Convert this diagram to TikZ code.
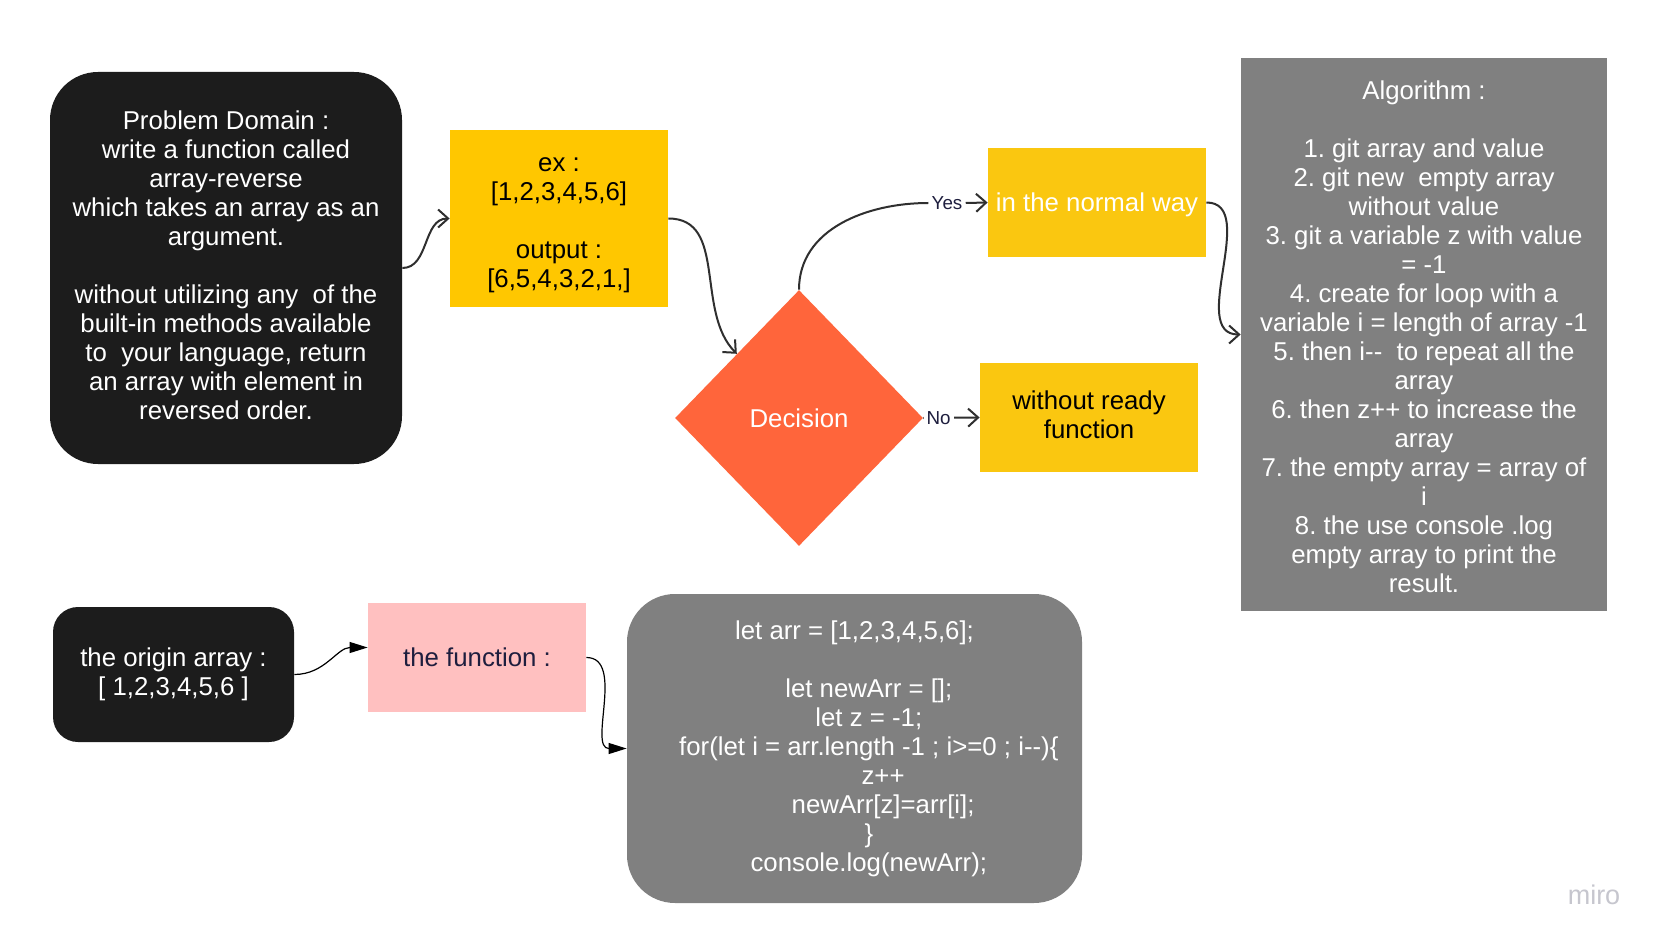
\documentclass[tikz,border=0pt]{standalone}
\usepackage{fontspec}
\setmainfont{Liberation Sans}
\usepackage{tikz}
\definecolor{mblack}{HTML}{1C1C1C}
\definecolor{myellow}{HTML}{FFC700}
\definecolor{mlemon}{HTML}{FAC710}
\definecolor{morange}{HTML}{FF653B}
\definecolor{mgray}{HTML}{808080}
\definecolor{mpink}{HTML}{FFC0C0}
\definecolor{mnavy}{HTML}{1E1E3E}
\definecolor{mline}{HTML}{2F2F2F}
\definecolor{mlogo}{HTML}{C6C6CE}
\usetikzlibrary{shapes.geometric}
\usetikzlibrary{arrows.meta}
\newcommand{\boxstrut}{\rule[-2.75pt]{0pt}{14.5pt}}
\newcommand{\codeindent}{\hspace*{14.3pt}}
\frenchspacing

\begin{document}
\begin{tikzpicture}[x=0.5pt, y=-0.5pt]
    \tikzset{
      box/.style={
        rectangle,
        inner sep=2pt,
        align=center,
        execute at begin node=\boxstrut,
        execute at end node=\boxstrut,
        font={\fontsize{12.9}{14.5}\selectfont}},
      lbl/.style={
        inner sep=1.5pt,
        text=mnavy,
        font={\fontsize{9.4}{11}\selectfont}},
      plain/.style={draw=mline, line width=1pt},
      link/.style={plain, -{Straight Barb[length=5pt, width=9pt]}},
      flink/.style={draw=black, line width=0.6pt, -{Triangle[length=9pt, width=5.5pt]}}}
    \path[fill=white] (0, 0) rectangle (1660, 941);
    % top row
    \node[box, fill=mblack, text=white, rounded corners=24pt,
      minimum width=176pt, minimum height=196pt] at (226, 268) (prob)
      {Problem Domain :\\ write a function called\\ array-reverse\\
       which takes an array as an\\ argument.\\[14.5pt]
       without utilizing any\ \ of the\\ built-in methods available\\
       to\ \ your language, return\\ an array with element in\\ reversed order.};
    \node[box, fill=myellow, text=black, minimum width=109pt, minimum height=88.5pt]
      at (559, 218.5) (ex)
      {\rule{0pt}{13.3pt}ex :\\ {[}1,2,3,4,5,6]\\[14.5pt] output :\\ {[}6,5,4,3,2,1,]};
    \node[diamond, fill=morange, text=white, inner sep=0pt, minimum width=124pt,
      minimum height=128pt, font={\fontsize{12.9}{14.5}\selectfont}]
      at (799, 418) (dec) {Decision};
    \node[lbl] at (947, 203) (yes) {Yes};
    \node[box, fill=mlemon, text=white, minimum width=109pt, minimum height=54.5pt]
      at (1097, 202.5) (norm) {in the normal way};
    \node[box, fill=mlemon, text=black, minimum width=109pt, minimum height=54.5pt]
      at (1089, 417.5) (wo) {without ready\\ function};
    \node[box, fill=mgray, text=white, minimum width=183pt, minimum height=276.5pt]
      at (1424, 334.5) (algo)
      {\rule{0pt}{14pt}Algorithm :\\[14.5pt] 1. git array and value\\
       2. git new\ \ empty array\\ without value\\ 3. git a variable z with value\\
       = -1\\ 4. create for loop with a\\ variable i = length of array -1\\
       5. then i-{}-\ \ to repeat all the\\ array\\ 6. then z++ to increase the\\
       array\\ 7. the empty array = array of\\ i\\ 8. the use console .log\\
       empty array to print the\\ result.};
    % bottom row
    \node[box, fill=mblack, text=white, rounded corners=12.5pt,
      minimum width=120.5pt, minimum height=67.5pt] at (173.5, 674.5) (orig)
      {the origin array :\\ {[} 1,2,3,4,5,6 ]};
    \node[box, fill=mpink, text=mnavy, minimum width=109pt, minimum height=54.5pt]
      at (477, 657.5) (fun) {the function :};
    \node[box, fill=mgray, text=white, rounded corners=24pt,
      minimum width=227.5pt, minimum height=154.5pt] at (854.5, 748.5) (code)
      {let arr = {[}1,2,3,4,5,6];\\[14.5pt]
       \codeindent let newArr = {[}];\\ \codeindent let z = -1;\\
       \codeindent for(let i = arr.length -1 ; i>=0 ; i-{}-)\{\\
       \codeindent\codeindent z++\\ \codeindent\codeindent newArr[z]=arr[i];\\
       \codeindent\}\\ \codeindent console.log(newArr);};
    \node[text=mlogo, font={\fontsize{13.5}{15}\selectfont}] at (1594, 895) (miro) {miro};
    % connectors
    \draw[link] (prob.east) to[out=0, in=180] (ex.west);
    \draw[link] (ex.east) to[out=0, in=135] (dec.north west);
    \draw[plain] (dec.north) to[out=90, in=180] (yes.west);
    \draw[link] (yes.east) -- (norm.west);
    \draw[link] (dec.east) -- node[lbl, fill=white, pos=0.27] (no) {No} (wo.west);
    \draw[link] (norm.east) to[out=0, in=180] (algo.west);
    \draw[flink] (orig.east) to[out=0, in=180] ([yshift=5pt]fun.west);
    \draw[flink] (fun.east) to[out=0, in=180] (code.west);
\end{tikzpicture}
\end{document}
